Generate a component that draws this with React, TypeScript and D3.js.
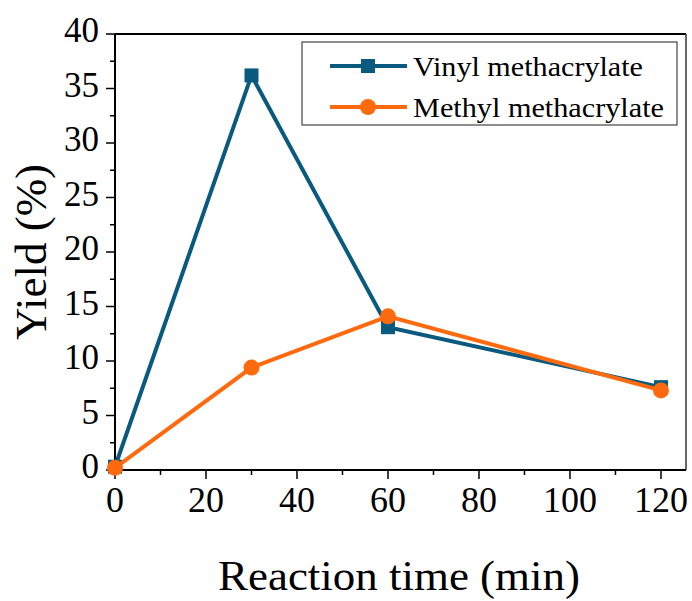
import { useEffect, useRef } from 'react'
import * as d3 from 'd3'

const times = [0, 30, 60, 120]
const vinyl = [0.3, 36.2, 13.1, 7.6]
const methyl = [0.2, 9.4, 14.1, 7.3]
const xTicks = [0, 20, 40, 60, 80, 100, 120]
const yTicks = [0, 5, 10, 15, 20, 25, 30, 35, 40]
const seriesNames = ['Vinyl methacrylate', 'Methyl methacrylate']

const W = 692
const H = 601
const FONT = '"Liberation Serif", "Times New Roman", serif'
const BLUE = '#0a5a80'
const ORANGE = '#ff6a0e'

export default function App() {
  const svgRef = useRef<SVGSVGElement>(null)

  useEffect(() => {
    if (!svgRef.current) return
    const svg = d3.select(svgRef.current)
    svg.selectAll('*').remove()

    const left = 115, right = 686, top = 34, bottom = 470
    const x = d3.scaleLinear().domain([0, 125.5]).range([left, right])
    const y = d3.scaleLinear().domain([0, 40]).range([bottom, top])

    svg.append('rect').attr('width', W).attr('height', H).attr('fill', '#fff')

    // frame: top and right
    svg.append('line').attr('x1', left).attr('x2', right).attr('y1', top).attr('y2', top)
      .attr('stroke', '#000').attr('stroke-width', 2)
    svg.append('line').attr('x1', right).attr('x2', right).attr('y1', top).attr('y2', bottom)
      .attr('stroke', '#333').attr('stroke-width', 1.5)

    // minor ticks
    const xMinor = d3.range(10, 125, 20)
    const yMinor = d3.range(2.5, 40, 5)
    svg.selectAll('.xminor').data(xMinor).join('line')
      .attr('x1', d => x(d)).attr('x2', d => x(d)).attr('y1', bottom).attr('y2', bottom + 5)
      .attr('stroke', '#000').attr('stroke-width', 1.5)
    svg.selectAll('.yminor').data(yMinor).join('line')
      .attr('x1', left - 5).attr('x2', left).attr('y1', d => y(d)).attr('y2', d => y(d))
      .attr('stroke', '#000').attr('stroke-width', 1.5)

    // major ticks
    svg.selectAll('.xmajor').data(xTicks).join('line')
      .attr('x1', d => x(d)).attr('x2', d => x(d)).attr('y1', bottom).attr('y2', bottom + 9)
      .attr('stroke', '#000').attr('stroke-width', 1.5)
    svg.selectAll('.ymajor').data(yTicks).join('line')
      .attr('x1', left - 9).attr('x2', left).attr('y1', d => y(d)).attr('y2', d => y(d))
      .attr('stroke', '#000').attr('stroke-width', 1.5)

    // axes lines
    svg.append('line').attr('x1', left).attr('x2', left).attr('y1', top).attr('y2', bottom)
      .attr('stroke', '#000').attr('stroke-width', 2)
    svg.append('line').attr('x1', left).attr('x2', right).attr('y1', bottom).attr('y2', bottom)
      .attr('stroke', '#000').attr('stroke-width', 2)

    // tick labels
    svg.selectAll('.xlab').data(xTicks).join('text')
      .attr('x', d => x(d)).attr('y', 512)
      .attr('text-anchor', 'middle').attr('font-family', FONT).attr('font-size', 36)
      .text(d => d)
    svg.selectAll('.ylab').data(yTicks).join('text')
      .attr('x', 99).attr('y', d => y(d) + 8)
      .attr('text-anchor', 'end').attr('font-family', FONT).attr('font-size', 35)
      .text(d => d)

    // axis titles
    svg.append('text').attr('x', 399).attr('y', 590)
      .attr('text-anchor', 'middle').attr('font-family', FONT).attr('font-size', 42)
      .attr('textLength', 362).attr('lengthAdjust', 'spacingAndGlyphs')
      .text('Reaction time (min)')
    svg.append('text').attr('transform', `translate(46,${(top + bottom) / 2}) rotate(-90)`)
      .attr('text-anchor', 'middle').attr('font-family', FONT).attr('font-size', 45)
      .text('Yield (%)')

    const line = d3.line<number>().x((_, i) => x(times[i])).y(d => y(d))

    // vinyl
    svg.append('path').datum(vinyl).attr('d', line).attr('fill', 'none')
      .attr('stroke', BLUE).attr('stroke-width', 4).attr('stroke-linejoin', 'miter')
    svg.selectAll('.vm').data(vinyl).join('rect')
      .attr('x', (_, i) => x(times[i]) - 7).attr('y', d => y(d) - 7)
      .attr('width', 14).attr('height', 14).attr('fill', BLUE)

    // methyl
    svg.append('path').datum(methyl).attr('d', line).attr('fill', 'none')
      .attr('stroke', ORANGE).attr('stroke-width', 4)
    svg.selectAll('.mm').data(methyl).join('circle')
      .attr('cx', (_, i) => x(times[i])).attr('cy', d => y(d)).attr('r', 8).attr('fill', ORANGE)

    // legend
    const lg = svg.append('g')
    lg.append('rect').attr('x', 302).attr('y', 42).attr('width', 375).attr('height', 83)
      .attr('fill', '#fff').attr('stroke', '#444').attr('stroke-width', 1.2)
    const colors = [BLUE, ORANGE]
    seriesNames.forEach((name, i) => {
      const cy = 66 + i * 41
      lg.append('line').attr('x1', 330).attr('x2', 407).attr('y1', cy).attr('y2', cy)
        .attr('stroke', colors[i]).attr('stroke-width', 4)
      if (i === 0) {
        lg.append('rect').attr('x', 361).attr('y', cy - 7).attr('width', 14).attr('height', 14).attr('fill', colors[i])
      } else {
        lg.append('circle').attr('cx', 368).attr('cy', cy).attr('r', 8).attr('fill', colors[i])
      }
      lg.append('text').attr('x', 413).attr('y', cy + 10)
        .attr('font-family', FONT).attr('font-size', 28)
        .attr('textLength', i === 0 ? 230 : 251).attr('lengthAdjust', 'spacingAndGlyphs')
        .text(name)
    })
  }, [])

  return (
    <svg ref={svgRef} width={W} height={H}
      style={{ position: 'absolute', left: 0, top: 0, display: 'block' }} />
  )
}
